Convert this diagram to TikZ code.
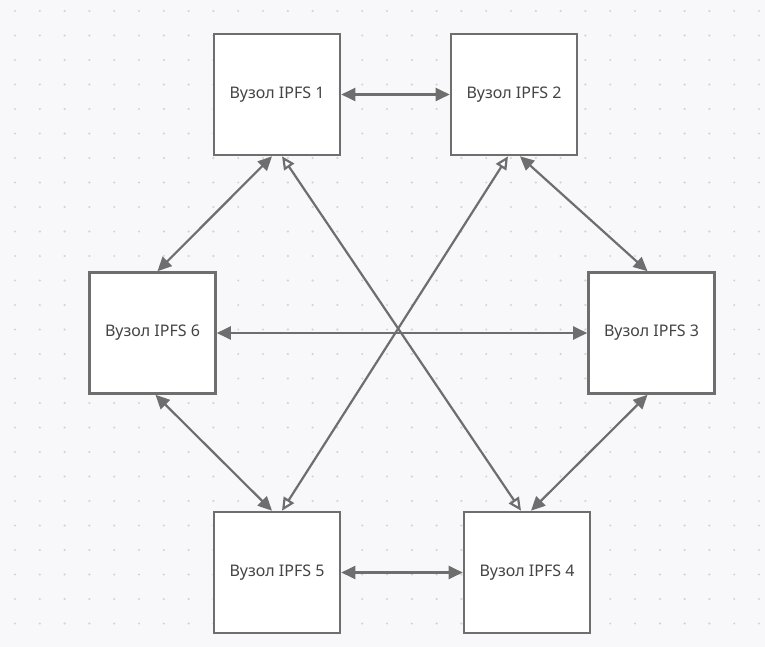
\documentclass[tikz,border=0pt]{standalone}
\usepackage{fontspec}
\setmainfont{Noto Sans}
\usetikzlibrary{arrows.meta}
\definecolor{linegray}{HTML}{6E6E6E}
\definecolor{textgray}{HTML}{444444}
\definecolor{bggray}{HTML}{F8F8FA}
\definecolor{dotgray}{HTML}{D4D4D8}

\begin{document}
\begin{tikzpicture}[x=1pt, y=-1pt,
    ipfs/.style={draw=linegray, line width=2.6pt, fill=white, minimum width=126pt, minimum height=121pt, inner sep=0pt, text=textgray, font=\fontsize{16}{19}\selectfont},
    link/.style={linegray, line width=2.2pt, {Triangle[length=14pt,width=13pt]}-{Triangle[length=14pt,width=13pt]}},
    cross/.style={linegray, line width=2.2pt, {Triangle[open,length=13pt,width=12pt,fill=white]}-{Triangle[open,length=13pt,width=12pt,fill=white]}}]
      \useasboundingbox (0,0) rectangle (765,647);
      \fill[bggray] (0,0) rectangle (765,647);
      \foreach \i in {0,...,30}
        \foreach \j in {0,...,26}
          \fill[dotgray] (15+24.8*\i, 11+24.5*\j) circle (1.2pt);

      \node[ipfs] (n1) at (277,94.5) {Вузол IPFS 1};
      \node[ipfs] (n2) at (514,94.5) {Вузол IPFS 2};
      \node[ipfs] (n3) at (651.5,333) {Вузол IPFS 3};
      \node[ipfs] (n4) at (527,572.5) {Вузол IPFS 4};
      \node[ipfs] (n5) at (277,572.5) {Вузол IPFS 5};
      \node[ipfs] (n6) at (152.5,333) {Вузол IPFS 6};

      \draw[link] (n1) -- (n2);
      \draw[link] (n6) -- (n3);
      \draw[link] (n5) -- (n4);
      \draw[link] ([xshift=-5pt]n1.south) -- ([xshift=5pt]n6.north);
      \draw[link] ([xshift=6pt]n2.south) -- ([xshift=-4pt]n3.north);
      \draw[link] ([xshift=3pt]n6.south) -- ([xshift=-5pt]n5.north);
      \draw[link] ([xshift=-4pt]n3.south) -- ([xshift=4pt]n4.north);
      \draw[cross] ([xshift=5pt]n1.south) -- ([xshift=-6pt]n4.north);
      \draw[cross] ([xshift=-6pt]n2.south) -- ([xshift=5pt]n5.north);

    \end{tikzpicture}
\end{document}
